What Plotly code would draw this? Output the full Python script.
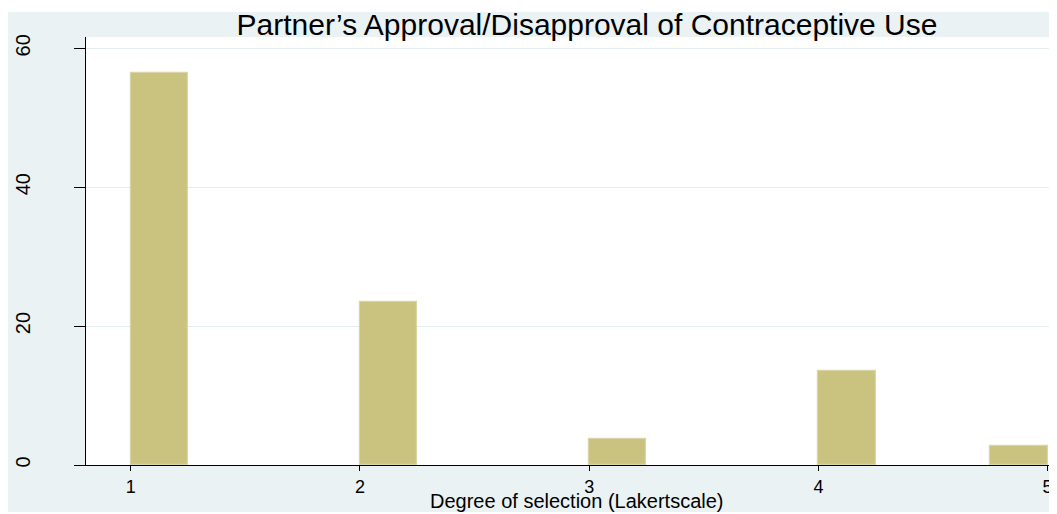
import plotly.graph_objects as go

# Data (percent of respondents)
categories = [1, 2, 3, 4, 5]
percent = [56.4, 23.5, 3.8, 13.6, 2.8]
x_tick_vals = [1, 2, 3, 4, 5]
x_tick_text = ["1", "2", "3", "4", "5"]
y_tick_vals = [0, 20, 40, 60]
y_tick_text = ["0", "20", "40", "60"]

title_text = "Partner\u2019s Approval/Disapproval of Contraceptive Use"
x_title = "Degree of selection (Lakertscale)"

# histogram binning: 16 bins of width 0.25 between 1 and 5
bin_start, bin_width, n_bins = 1.0, 0.25, 16
bin_centers = []
for v in categories:
    idx = min(int((v - bin_start) // bin_width), n_bins - 1)
    bin_centers.append(bin_start + (idx + 0.5) * bin_width)

# figure sits at (8, 8) inside the page (default body margin)
W, H = 1049, 506
L, R, T, B = 78, 0, 29, 49
pw, ph = W - L - R, H - T - B

BG = "#EAF2F3"
BAR = "#C9C37F"

fig = go.Figure()
fig.add_trace(go.Bar(
    x=bin_centers, y=percent, width=bin_width,
    marker=dict(color=BAR, line=dict(color="#D9D5A6", width=1.2)),
    showlegend=False, hoverinfo="skip",
))

def px_x(p):
    return (p - L) / pw

def px_y(p):
    return (H - B - p) / ph

shapes = [
    dict(type="rect", xref="paper", yref="paper", x0=px_x(0), x1=px_x(W), y0=px_y(4), y1=px_y(0),
         fillcolor="white", line=dict(width=0), layer="below"),
    dict(type="rect", xref="paper", yref="paper", x0=px_x(0), x1=px_x(W), y0=px_y(H), y1=px_y(504),
         fillcolor="white", line=dict(width=0), layer="below"),
]

font_family = "Liberation Sans, Arial, sans-serif"

fig.update_layout(
    width=W, height=H,
    margin=dict(l=L, r=R, t=T, b=B, autoexpand=False),
    paper_bgcolor=BG, plot_bgcolor="white",
    shapes=shapes,
    bargap=0,
    title=dict(text=title_text, x=579 / W, xanchor="center", y=1 - 16 / H, yanchor="middle",
               xref="container", yref="container",
               font=dict(family=font_family, size=30, color="black")),
    font=dict(family=font_family, color="black"),
    annotations=[dict(
        text=x_title, xref="paper", yref="paper",
        x=px_x(568), y=px_y(493), xanchor="center", yanchor="middle",
        showarrow=False, font=dict(family=font_family, size=20, color="black"),
    )],
)

fig.update_xaxes(
    range=[0.805, 5.041],
    tickmode="array", tickvals=x_tick_vals, ticktext=x_tick_text,
    ticks="outside", ticklen=5, tickwidth=1, tickcolor="black",
    tickfont=dict(size=18, color="black"),
    showline=True, linecolor="black", linewidth=1,
    showgrid=False, zeroline=False,
    automargin=False,
)
fig.update_yaxes(
    range=[0, 61.63],
    tickmode="array", tickvals=y_tick_vals, ticktext=y_tick_text,
    ticks="outside", ticklen=11, tickwidth=1, tickcolor="black",
    tickangle=-90, ticklabelstandoff=36,
    tickfont=dict(size=20, color="black"),
    showline=True, linecolor="black", linewidth=1,
    showgrid=True, gridcolor="#E4EDF0", gridwidth=1,
    zeroline=False, automargin=False,
)

fig.write_html("out.html")
